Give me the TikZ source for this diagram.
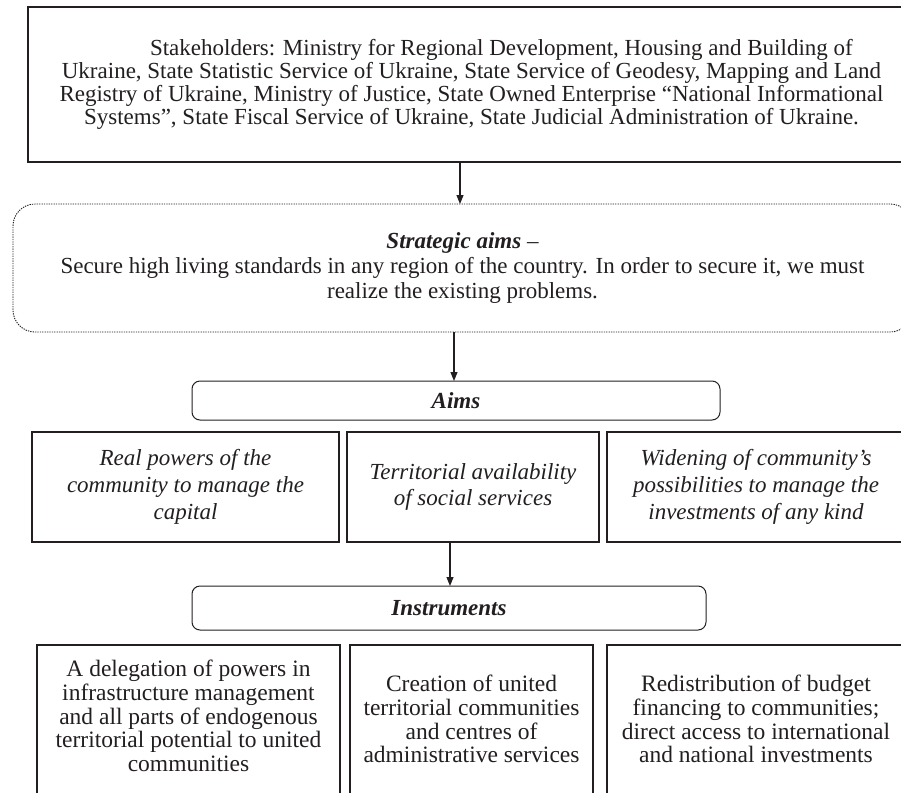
\documentclass[tikz,border=0pt]{standalone}
\usepackage{fontspec}
\setmainfont{Liberation Serif}
\usetikzlibrary{arrows.meta}
\definecolor{ink}{HTML}{231F20}
\begin{document}
\begin{tikzpicture}[x=1pt,y=-1pt,
  every node/.style={inner sep=0pt,outer sep=0pt,align=center,text=ink},
  sqbox/.style={draw=ink,line width=1.3pt},
  topbox/.style={draw=ink,line width=1.8pt},
  rbox/.style={draw=ink,line width=1pt,rounded corners=8pt},
  dbox/.style={draw=ink,line width=0.9pt,dash pattern=on 1.3pt off 1.1pt,rounded corners=22pt},
  arr/.style={draw=ink,line width=1.1pt,-{Triangle[length=9pt,width=7pt]}},
  fnt/.style={font=\fontsize{23}{23}\selectfont},
  fntit/.style={font=\fontsize{23}{26.7}\selectfont\itshape},
  fntlow/.style={font=\fontsize{23.5}{23.8}\selectfont}
]
\useasboundingbox (0,0) rectangle (901,792);
\clip (0,0) rectangle (901,792);
\fill[white] (0,0) rectangle (901,792);

% top box
\node[topbox,fnt,minimum width=887pt,minimum height=155pt] (top) at (471.5,84.5)
 {\hspace*{2.6em}Stakeholders: Ministry for Regional Development, Housing and Building of\\
  Ukraine, State Statistic Service of Ukraine, State Service of Geodesy, Mapping and Land\\
  Registry of Ukraine, Ministry of Justice, State Owned Enterprise “National Informational\\
  Systems”, State Fiscal Service of Ukraine, State Judicial Administration of Ukraine.};

% strategic aims
\node[dbox,minimum width=899pt,minimum height=128pt,font=\fontsize{23}{25}\selectfont] (strat) at (462.5,268)
 {\textbf{\textit{Strategic aims}} –\\
  Secure high living standards in any region of the country. In order to secure it, we must\\
  realize the existing problems.};

% aims
\node[rbox,minimum width=528pt,minimum height=39pt,font=\fontsize{23}{23}\selectfont\bfseries\itshape] (aims) at (456,400.5) {Aims};

\node[sqbox,fntit,minimum width=307pt,minimum height=110pt] (a1) at (185.5,487)
 {Real powers of the\\community to manage the\\capital};
\node[sqbox,fntit,minimum width=252pt,minimum height=110pt] (a2) at (473,487)
 {Territorial availability\\of social services};
\node[sqbox,fntit,minimum width=298pt,minimum height=110pt] (a3) at (756,487)
 {Widening of community’s\\possibilities to manage the\\investments of any kind};

% instruments
\node[rbox,minimum width=514pt,minimum height=44pt,font=\fontsize{23}{23}\selectfont\bfseries\itshape] (instr) at (449,608) {Instruments};

\node[sqbox,minimum width=303pt,minimum height=160pt] (b1) at (188.5,725) {};
\node[sqbox,minimum width=243pt,minimum height=160pt] (b2) at (471.5,725) {};
\node[sqbox,minimum width=298pt,minimum height=160pt] (b3) at (756,725) {};
\node[fntlow] (t1) at (188.5,716)
 {A delegation of powers in\\infrastructure management\\and all parts of endogenous\\territorial potential to united\\communities};
\node[fntlow] (t2) at (471.5,719)
 {Creation of united\\territorial communities\\and centres of\\administrative services};
\node[fntlow] (t3) at (756,719)
 {Redistribution of budget\\financing to communities;\\direct access to international\\and national investments};

% arrows
\coordinate (x1) at (460,0);
\coordinate (x2) at (454,0);
\coordinate (x3) at (450,0);
\draw[arr] (top.south -| x1) -- (strat.north -| x1);
\draw[arr] (strat.south -| x2) -- (aims.north -| x2);
\draw[arr] (a2.south -| x3) -- (instr.north -| x3);
\end{tikzpicture}
\end{document}
